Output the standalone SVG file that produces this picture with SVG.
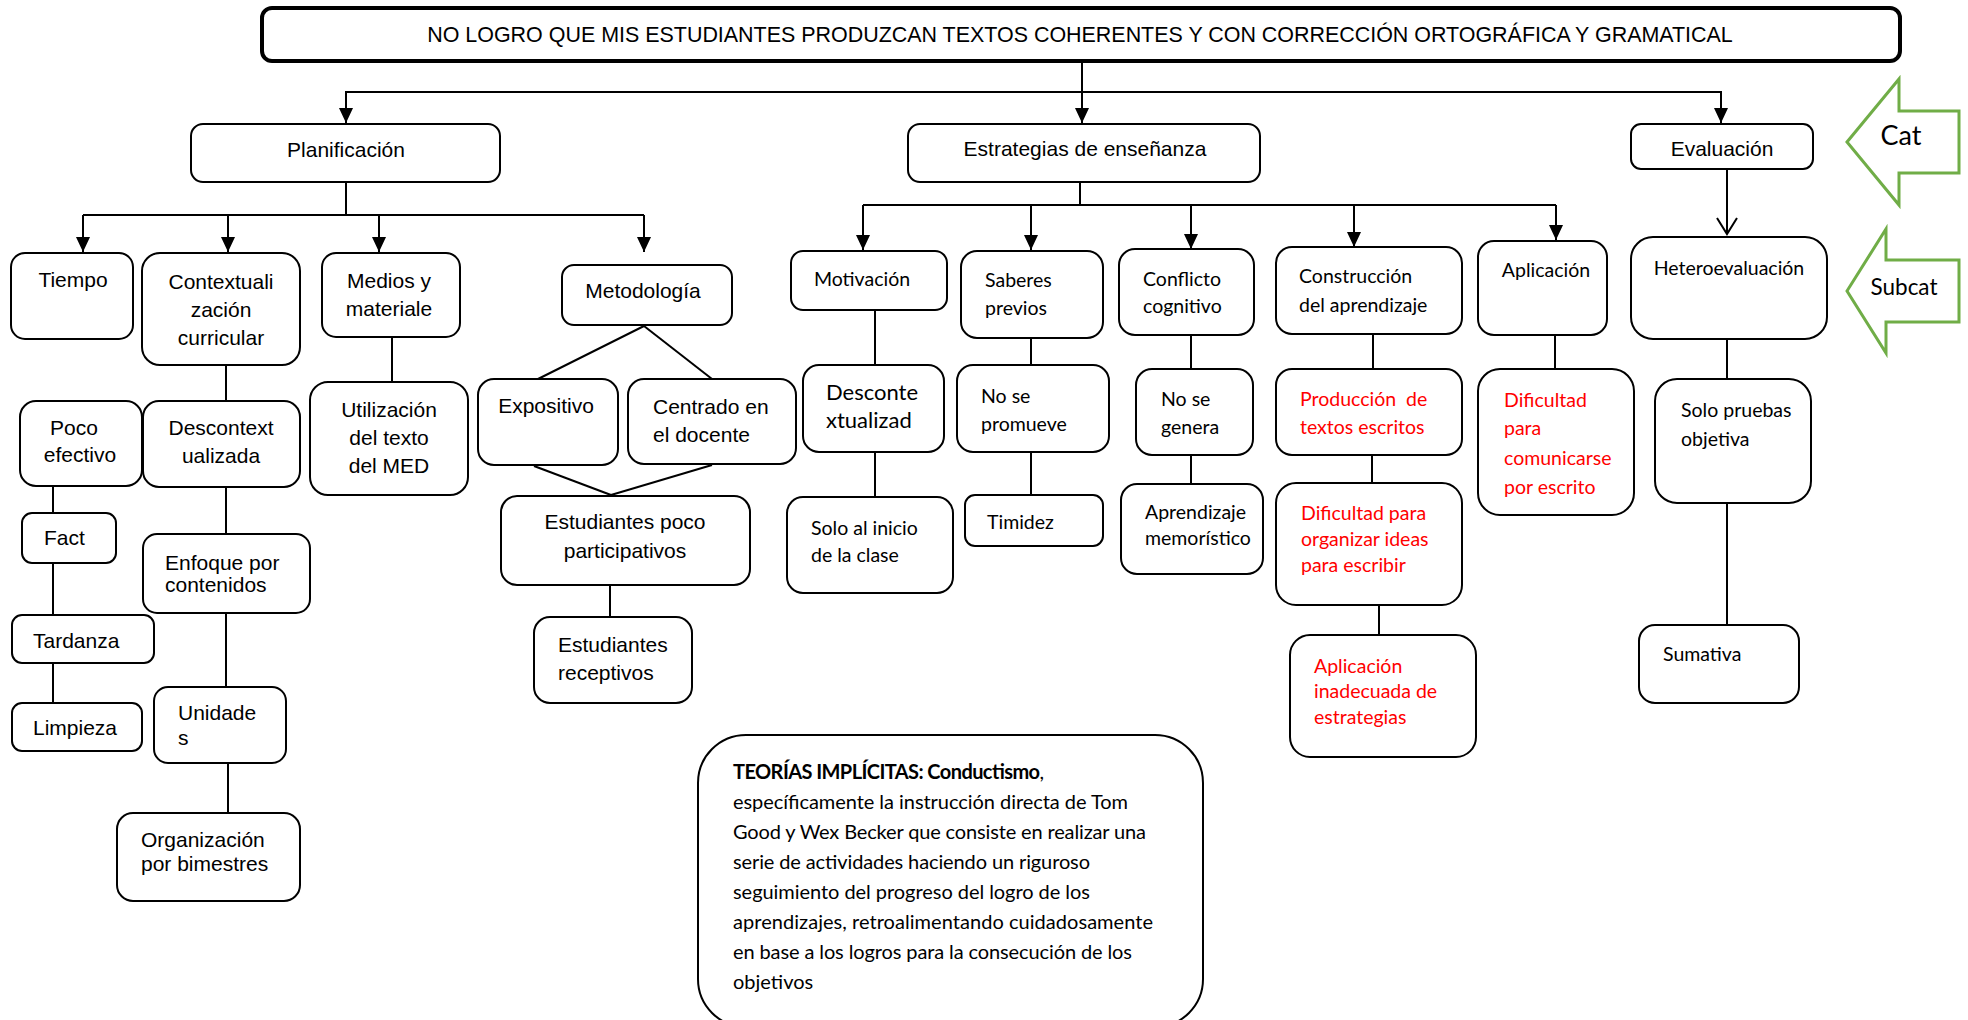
<svg xmlns="http://www.w3.org/2000/svg" width="1968" height="1020" viewBox="0 0 1968 1020">
<style>
.n{fill:#fff;stroke:#000;stroke-width:2}
.t{fill:#fff;stroke:#000;stroke-width:4}
.c{stroke:#000;stroke-width:2;fill:none}
.ar{marker-end:url(#ah)}
.a{font-family:"Liberation Sans",Arial,sans-serif;font-size:21px;fill:#000}
.k{font-family:Lato,"Liberation Sans",sans-serif;font-size:19.5px;fill:#000}
.r{fill:#ff0000}
.m{text-anchor:middle}
.g{fill:#fff;stroke:#70AD47;stroke-width:3}
</style>
<defs>
<marker id="ah" markerUnits="userSpaceOnUse" markerWidth="16" markerHeight="16" refX="15" refY="8" orient="auto" viewBox="0 0 16 16">
<path d="M0,1 L15,8 L0,15 z" fill="#000"/>
</marker>
<marker id="ao" markerUnits="userSpaceOnUse" markerWidth="20" markerHeight="24" refX="17" refY="12" orient="auto" viewBox="0 0 20 24">
<path d="M1,2 L17,12 L1,22" fill="none" stroke="#000" stroke-width="2"/>
</marker>
</defs>
<rect width="1968" height="1020" fill="#fff"/>

<g id="connectors">
<line class="c ar" x1="1082" y1="62" x2="1082" y2="123"/>
<polyline class="c" points="346,123 346,92 1721,92 1721,123"/>
<line class="c ar" x1="346" y1="92" x2="346" y2="123"/>
<line class="c ar" x1="1721" y1="92" x2="1721" y2="123"/>
<line class="c" x1="346" y1="182" x2="346" y2="215"/>
<line class="c" x1="83" y1="215" x2="644" y2="215"/>
<line class="c ar" x1="83" y1="215" x2="83" y2="252"/>
<line class="c ar" x1="228" y1="215" x2="228" y2="252"/>
<line class="c ar" x1="379" y1="215" x2="379" y2="252"/>
<line class="c ar" x1="644" y1="215" x2="644" y2="252"/>
<line class="c" x1="226" y1="365" x2="226" y2="401"/>
<line class="c" x1="392" y1="337" x2="392" y2="382"/>
<line class="c" x1="226" y1="487" x2="226" y2="534"/>
<line class="c" x1="226" y1="613" x2="226" y2="687"/>
<line class="c" x1="228" y1="763" x2="228" y2="813"/>
<line class="c" x1="53" y1="486" x2="53" y2="513"/>
<line class="c" x1="53" y1="563" x2="53" y2="615"/>
<line class="c" x1="53" y1="663" x2="53" y2="703"/>
<line class="c" x1="644" y1="326" x2="538" y2="379"/>
<line class="c" x1="644" y1="326" x2="712" y2="379"/>
<line class="c" x1="534" y1="466" x2="611" y2="495"/>
<line class="c" x1="712" y1="465" x2="611" y2="495"/>
<line class="c" x1="610" y1="585" x2="610" y2="617"/>
<line class="c" x1="1080" y1="182" x2="1080" y2="205"/>
<line class="c" x1="863" y1="205" x2="1556" y2="205"/>
<line class="c ar" x1="863" y1="205" x2="863" y2="250"/>
<line class="c ar" x1="1031" y1="205" x2="1031" y2="250"/>
<line class="c ar" x1="1191" y1="205" x2="1191" y2="249"/>
<line class="c ar" x1="1354" y1="205" x2="1354" y2="247"/>
<line class="c ar" x1="1556" y1="205" x2="1556" y2="240"/>
<line class="c" x1="875" y1="310" x2="875" y2="365"/>
<line class="c" x1="875" y1="452" x2="875" y2="497"/>
<line class="c" x1="1031" y1="338" x2="1031" y2="365"/>
<line class="c" x1="1031" y1="452" x2="1031" y2="495"/>
<line class="c" x1="1191" y1="335" x2="1191" y2="369"/>
<line class="c" x1="1191" y1="455" x2="1191" y2="484"/>
<line class="c" x1="1373" y1="334" x2="1373" y2="369"/>
<line class="c" x1="1372" y1="455" x2="1372" y2="483"/>
<line class="c" x1="1379" y1="605" x2="1379" y2="635"/>
<line class="c" x1="1555" y1="335" x2="1555" y2="369"/>
<line class="c" x1="1727" y1="169" x2="1727" y2="234" marker-end="url(#ao)"/>
<line class="c" x1="1727" y1="339" x2="1727" y2="379"/>
<line class="c" x1="1727" y1="503" x2="1727" y2="625"/>
</g>

<g id="title">
<rect class="t" x="262" y="8" width="1638" height="53" rx="10"/>
<text class="a m" x="1080" y="42" style="font-size:21.45px">NO LOGRO QUE MIS ESTUDIANTES PRODUZCAN TEXTOS COHERENTES Y CON CORRECCIÓN ORTOGRÁFICA Y GRAMATICAL</text>
</g>

<g id="cat">
<polygon class="g" points="1847,142 1899,79 1899,111 1959,111 1959,173 1899,173 1899,205"/>
<text class="k m" x="1901" y="145" style="font-size:27px">Cat</text>
</g>
<g id="subcat">
<polygon class="g" points="1847,291 1886,229 1886,260 1959,260 1959,322 1886,322 1886,353"/>
<text class="k m" x="1904" y="295" style="font-size:22.5px">Subcat</text>
</g>

<g id="planificacion"><rect class="n" x="191" y="124" width="309" height="58" rx="12"/><text class="a m" x="346" y="157">Planificación</text></g>
<g id="estrategias"><rect class="n" x="908" y="124" width="352" height="58" rx="12"/><text class="a m" x="1085" y="156">Estrategias de enseñanza</text></g>
<g id="evaluacion"><rect class="n" x="1631" y="124" width="182" height="45" rx="10"/><text class="a m" x="1722" y="156">Evaluación</text></g>

<g id="tiempo"><rect class="n" x="11" y="253" width="122" height="86" rx="14"/><text class="a m" x="73" y="287">Tiempo</text></g>
<g id="contextualizacion"><rect class="n" x="142" y="253" width="158" height="112" rx="18"/><text class="a m" x="221" y="289">Contextuali</text><text class="a m" x="221" y="317">zación</text><text class="a m" x="221" y="345">curricular</text></g>
<g id="medios"><rect class="n" x="322" y="253" width="138" height="84" rx="14"/><text class="a m" x="389" y="288">Medios y</text><text class="a m" x="389" y="316">materiale</text></g>
<g id="metodologia"><rect class="n" x="562" y="265" width="170" height="60" rx="12"/><text class="a m" x="643" y="298">Metodología</text></g>
<g id="poco"><rect class="n" x="20" y="401" width="122" height="85" rx="16"/><text class="a m" x="74" y="435">Poco</text><text class="a m" x="80" y="462">efectivo</text></g>
<g id="descontext"><rect class="n" x="143" y="401" width="157" height="86" rx="16"/><text class="a m" x="221" y="435">Descontext</text><text class="a m" x="221" y="463">ualizada</text></g>
<g id="utilizacion"><rect class="n" x="310" y="382" width="158" height="113" rx="18"/><text class="a m" x="389" y="417">Utilización</text><text class="a m" x="389" y="445">del texto</text><text class="a m" x="389" y="473">del MED</text></g>
<g id="expositivo"><rect class="n" x="478" y="379" width="140" height="86" rx="16"/><text class="a m" x="546" y="413">Expositivo</text></g>
<g id="centrado"><rect class="n" x="628" y="379" width="168" height="85" rx="16"/><text class="a" x="653" y="414">Centrado en</text><text class="a" x="653" y="442">el docente</text></g>
<g id="estudiantes-poco"><rect class="n" x="501" y="496" width="249" height="89" rx="16"/><text class="a m" x="625" y="529">Estudiantes poco</text><text class="a m" x="625" y="558">participativos</text></g>
<g id="estudiantes-receptivos"><rect class="n" x="534" y="617" width="158" height="86" rx="16"/><text class="a" x="558" y="652">Estudiantes</text><text class="a" x="558" y="680">receptivos</text></g>
<g id="fact"><rect class="n" x="22" y="513" width="94" height="50" rx="10"/><text class="a" x="44" y="545">Fact</text></g>
<g id="tardanza"><rect class="n" x="12" y="615" width="142" height="48" rx="10"/><text class="a" x="33" y="648">Tardanza</text></g>
<g id="limpieza"><rect class="n" x="12" y="703" width="130" height="48" rx="10"/><text class="a" x="33" y="735">Limpieza</text></g>
<g id="enfoque"><rect class="n" x="143" y="534" width="167" height="79" rx="14"/><text class="a" x="165" y="570">Enfoque por</text><text class="a" x="165" y="592">contenidos</text></g>
<g id="unidades"><rect class="n" x="154" y="687" width="132" height="76" rx="14"/><text class="a" x="178" y="720">Unidade</text><text class="a" x="178" y="745">s</text></g>
<g id="organizacion"><rect class="n" x="117" y="813" width="183" height="88" rx="16"/><text class="a" x="141" y="847">Organización</text><text class="a" x="141" y="871">por bimestres</text></g>

<g id="motivacion"><rect class="n" x="791" y="251" width="156" height="59" rx="12"/><text class="k m" x="862" y="286">Motivación</text></g>
<g id="saberes"><rect class="n" x="961" y="251" width="142" height="87" rx="16"/><text class="k" x="985" y="287">Saberes</text><text class="k" x="985" y="315">previos</text></g>
<g id="conflicto"><rect class="n" x="1119" y="249" width="135" height="86" rx="16"/><text class="k" x="1143" y="286">Conflicto</text><text class="k" x="1143" y="313">cognitivo</text></g>
<g id="construccion"><rect class="n" x="1276" y="247" width="186" height="87" rx="16"/><text class="k" x="1299" y="283">Construcción</text><text class="k" x="1299" y="312">del aprendizaje</text></g>
<g id="aplicacion"><rect class="n" x="1478" y="241" width="129" height="94" rx="16"/><text class="k m" x="1546" y="277">Aplicación</text></g>
<g id="desconte"><rect class="n" x="803" y="365" width="141" height="87" rx="16"/><text class="k" x="826" y="400" style="font-size:22px">Desconte</text><text class="k" x="826" y="428" style="font-size:22px">xtualizad</text></g>
<g id="solo-inicio"><rect class="n" x="787" y="497" width="166" height="96" rx="16"/><text class="k" x="811" y="535">Solo al inicio</text><text class="k" x="811" y="562">de la clase</text></g>
<g id="no-promueve"><rect class="n" x="957" y="365" width="152" height="87" rx="16"/><text class="k" x="981" y="403">No se</text><text class="k" x="981" y="431">promueve</text></g>
<g id="timidez"><rect class="n" x="965" y="495" width="138" height="51" rx="10"/><text class="k" x="987" y="529">Timidez</text></g>
<g id="no-genera"><rect class="n" x="1136" y="369" width="117" height="86" rx="16"/><text class="k" x="1161" y="406">No se</text><text class="k" x="1161" y="434">genera</text></g>
<g id="aprendizaje"><rect class="n" x="1121" y="484" width="142" height="90" rx="16"/><text class="k" x="1145" y="519">Aprendizaje</text><text class="k" x="1145" y="545">memorístico</text></g>
<g id="produccion"><rect class="n" x="1276" y="369" width="186" height="86" rx="16"/><text class="k r" x="1300" y="406" xml:space="preserve">Producción  de</text><text class="k r" x="1300" y="434">textos escritos</text></g>
<g id="dificultad-organizar"><rect class="n" x="1276" y="483" width="186" height="122" rx="20"/><text class="k r" x="1301" y="520">Dificultad para</text><text class="k r" x="1301" y="546">organizar ideas</text><text class="k r" x="1301" y="572">para escribir</text></g>
<g id="aplicacion-inadecuada"><rect class="n" x="1290" y="635" width="186" height="122" rx="20"/><text class="k r" x="1314" y="673">Aplicación</text><text class="k r" x="1314" y="698">inadecuada de</text><text class="k r" x="1314" y="724">estrategias</text></g>
<g id="dificultad-comunicarse"><rect class="n" x="1478" y="369" width="156" height="146" rx="22"/><text class="k r" x="1504" y="407">Dificultad</text><text class="k r" x="1504" y="435">para</text><text class="k r" x="1504" y="465">comunicarse</text><text class="k r" x="1504" y="494">por escrito</text></g>
<g id="heteroevaluacion"><rect class="n" x="1631" y="237" width="196" height="102" rx="22"/><text class="k m" x="1729" y="275">Heteroevaluación</text></g>
<g id="solo-pruebas"><rect class="n" x="1655" y="379" width="156" height="124" rx="22"/><text class="k" x="1681" y="417">Solo pruebas</text><text class="k" x="1681" y="446">objetiva</text></g>
<g id="sumativa"><rect class="n" x="1639" y="625" width="160" height="78" rx="16"/><text class="k" x="1663" y="661">Sumativa</text></g>

<g id="teorias">
<rect class="n" x="698" y="735" width="505" height="292" rx="48"/>
<g class="k" style="font-size:20px">
<text x="733" y="779" textLength="311"><tspan font-weight="bold">TEORÍAS IMPLÍCITAS: Conductismo</tspan>,</text>
<text x="733" y="809" textLength="395">específicamente la instrucción directa de Tom</text>
<text x="733" y="839" textLength="413">Good y Wex Becker que consiste en realizar una</text>
<text x="733" y="869" textLength="357">serie de actividades haciendo un riguroso</text>
<text x="733" y="899" textLength="357">seguimiento del progreso del logro de los</text>
<text x="733" y="929" textLength="420">aprendizajes, retroalimentando cuidadosamente</text>
<text x="733" y="959" textLength="399">en base a los logros para la consecución de los</text>
<text x="733" y="989">objetivos</text>
</g>
</g>
</svg>
